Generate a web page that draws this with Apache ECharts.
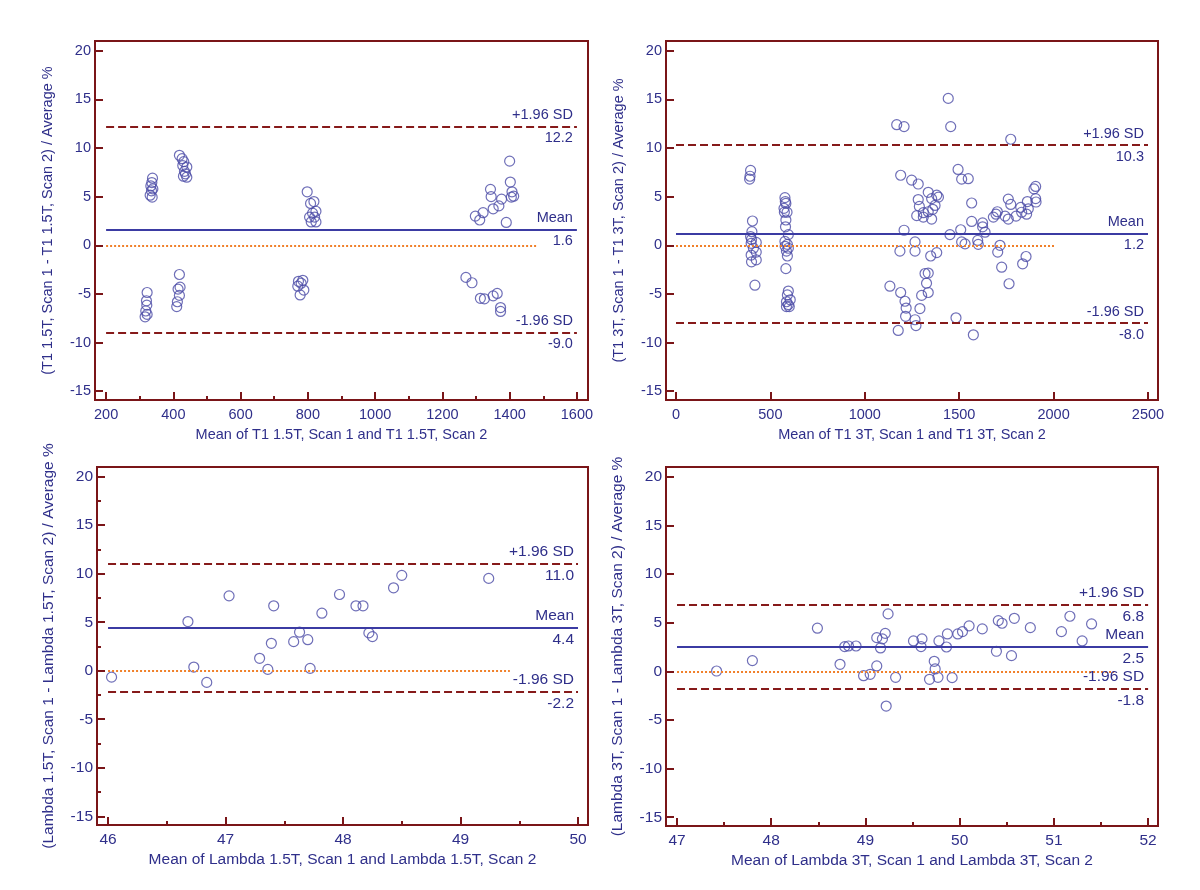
<!DOCTYPE html>
<html>
<head>
<meta charset="utf-8">
<script src="https://cdn.jsdelivr.net/npm/echarts@6/dist/echarts.min.js"></script>
<style>html,body{margin:0;padding:0;background:#fff}#c{width:1200px;height:890px}</style>
</head>
<body>
<div id="c"></div>
<script>
// ---------- DATA ----------
const p1Points = [
  [338,6.9],[336,6.45],[333,6.1],[339,5.8],[335,5.6],[331,5.15],[337,4.95],
  [418,9.25],[426,8.9],[431,8.6],[428,8.2],[440,8.05],[433,7.6],[436,7.35],[430,7.1],[440,7.0],
  [322,-4.85],[320,-5.7],[321,-6.15],[318,-6.75],[322,-7.1],[316,-7.35],
  [418,-3.0],[420,-4.3],[414,-4.5],[418,-5.15],[412,-5.8],[410,-6.3],
  [798,5.5],[808,4.3],[818,4.5],[824,3.5],[814,3.3],[805,2.9],[820,2.9],[810,2.4],[824,2.4],
  [772,-3.7],[785,-3.6],[770,-4.2],[780,-3.9],[788,-4.6],[777,-5.1],
  [1400,8.65],[1343,5.75],[1345,5.0],[1402,6.5],[1407,5.5],[1412,5.05],[1405,4.95],[1376,4.75],
  [1321,3.35],[1298,3.0],[1311,2.6],[1351,3.75],[1368,4.05],[1390,2.35],
  [1270,-3.3],[1288,-3.85],[1313,-5.45],[1325,-5.5],[1351,-5.2],[1363,-4.95],[1373,-6.4],[1373,-6.8]
];
const p2Points = [
  [395,7.7],[392,7.1],[390,6.8],[405,2.5],[402,1.4],[395,0.9],[400,0.6],[425,0.3],[398,0.2],
  [410,-0.3],[425,-0.7],[398,-1.0],[425,-1.5],[400,-1.7],[418,-4.1],
  [577,4.9],[579,4.5],[582,4.3],[572,3.8],[574,3.4],[588,3.4],[582,2.6],[580,1.9],[595,1.1],
  [577,0.4],[590,0.1],[578,-0.1],[595,-0.3],[585,-0.6],[590,-1.1],[582,-2.4],
  [595,-4.7],[590,-5.1],[605,-5.6],[585,-5.8],[595,-6.1],[585,-6.3],[600,-6.3],
  [1442,15.1],[1169,12.4],[1208,12.2],[1455,12.2],[1773,10.9],
  [1190,7.2],[1494,7.8],[1513,6.8],[1548,6.85],[1248,6.7],[1283,6.3],
  [1336,5.45],[1381,5.15],[1390,4.95],[1283,4.7],[1354,4.8],[1289,4.0],[1372,4.1],[1360,3.7],
  [1275,3.05],[1310,3.35],[1310,2.9],[1336,3.45],[1354,2.7],
  [1566,4.35],[1566,2.45],[1208,1.55],[1508,1.6],[1451,1.1],[1624,2.3],[1624,1.9],[1637,1.35],
  [1513,0.35],[1531,0.15],[1598,0.5],[1601,0.1],
  [1681,2.9],[1695,3.2],[1702,3.45],[1743,3.0],[1760,2.7],[1760,4.75],[1773,4.2],[1801,3.0],
  [1826,3.9],[1831,3.4],[1857,3.2],[1861,4.5],[1866,3.75],[1896,5.8],[1905,6.05],[1905,4.8],[1907,4.45],
  [1186,-0.6],[1266,0.35],[1266,-0.6],[1349,-1.1],[1381,-0.75],[1716,0.0],[1704,-0.7],
  [1725,-2.25],[1764,-3.95],[1854,-1.15],[1836,-1.9],
  [1133,-4.2],[1319,-2.9],[1336,-2.85],[1327,-3.9],[1190,-4.85],[1301,-5.15],[1336,-4.85],
  [1213,-5.75],[1219,-6.45],[1292,-6.5],[1216,-7.3],[1266,-7.65],[1271,-8.25],[1177,-8.75],
  [1483,-7.45],[1575,-9.2]
];
const p3Points = [
  [46.03,-0.66],[46.68,5.07],[46.73,0.38],[46.84,-1.2],[47.03,7.72],[47.29,1.28],[47.36,0.14],
  [47.39,2.83],[47.41,6.69],[47.58,3.0],[47.63,3.97],[47.70,3.2],[47.72,0.24],[47.82,5.93],
  [47.97,7.86],[48.11,6.69],[48.17,6.69],[48.22,3.9],[48.25,3.52],[48.43,8.55],[48.50,9.83],[49.24,9.52]
];
const p4Points = [
  [47.42,0.03],[47.80,1.1],[48.49,4.43],[48.73,0.72],[48.78,2.54],[48.82,2.6],[48.90,2.6],
  [48.98,-0.45],[49.05,-0.31],[49.12,0.55],[49.12,3.46],[49.18,3.33],[49.16,2.4],[49.21,3.9],
  [49.24,5.9],[49.22,-3.57],[49.32,-0.62],[49.51,3.12],[49.60,3.33],[49.59,2.54],[49.68,-0.82],
  [49.73,1.03],[49.74,0.24],[49.77,-0.62],[49.78,3.12],[49.86,2.5],[49.87,3.84],[49.92,-0.65],
  [49.98,3.84],[50.03,4.08],[50.10,4.67],[50.24,4.36],[50.39,2.06],[50.41,5.21],[50.45,4.94],
  [50.55,1.61],[50.58,5.45],[50.75,4.49],[51.08,4.08],[51.17,5.66],[51.30,3.12],[51.40,4.87]
];
const meanVals  = [1.6, 1.2, 4.4, 2.5];
const upperVals = [12.2, 10.3, 11.0, 6.8];
const lowerVals = [-9.0, -8.0, -2.2, -1.8];
const zeroEnds  = [1480, 2010, 49.42, 51.64];

const xTicks = [
  [200,400,600,800,1000,1200,1400,1600],
  [0,500,1000,1500,2000,2500],
  [46,47,48,49,50],
  [47,48,49,50,51,52]
];
const xMinorTicks = [
  [300,500,700,900,1100,1300,1500],
  [],
  [46.5,47.5,48.5,49.5],
  [47.5,48.5,49.5,50.5,51.5]
];
const yTicks = [-15,-10,-5,0,5,10,15,20];
const yMinorTicks = [[],[],[-12.5,-7.5,-2.5,2.5,7.5,12.5,17.5],[]];

const xNames = [
  'Mean of T1 1.5T, Scan 1 and T1 1.5T, Scan 2',
  'Mean of T1 3T, Scan 1 and T1 3T, Scan 2',
  'Mean of Lambda 1.5T, Scan 1 and Lambda 1.5T, Scan 2',
  'Mean of Lambda 3T, Scan 1 and Lambda 3T, Scan 2'
];
const yNames = [
  '(T1 1.5T, Scan 1 - T1 1.5T, Scan 2) / Average %',
  '(T1 3T, Scan 1 - T1 3T, Scan 2) / Average %',
  '(Lambda 1.5T, Scan 1 - Lambda 1.5T, Scan 2) / Average %',
  '(Lambda 3T, Scan 1 - Lambda 3T, Scan 2) / Average %'
];

// ---------- LAYOUT / STYLE ----------
const pointsAll = [p1Points, p2Points, p3Points, p4Points];
const xRanges = [[167,1633],[-53,2553],[45.906,50.085],[46.883,52.105]];
const yRange = [-15.9, 21.0];
const grids = [
  {left:95, top:41, width:493, height:359},
  {left:666, top:41, width:492, height:359},
  {left:97, top:467, width:491, height:358},
  {left:666, top:467, width:492, height:359}
];
const fontSizes = [14.5,14.5,15.5,15.5];
const FONT = '"Liberation Sans", Arial, sans-serif';
const NAVY = '#2f2f8a';
const RED = '#7a1518';
const PT = '#4b4ba6';
const plain = v => String(v);

const option = {
  backgroundColor:'#ffffff',
  animation:false,
  grid:[], xAxis:[], yAxis:[], series:[]
};

for (let i=0;i<4;i++){
  const g = grids[i];
  const fs = fontSizes[i];
  option.grid.push({left:g.left, top:g.top, width:g.width, height:g.height,
    show:true, borderColor:RED, borderWidth:2, backgroundColor:'transparent'});
  const xt = xTicks[i];
  const x0 = xt[0], x1 = xt[xt.length-1];
  option.xAxis.push({
    gridIndex:i, type:'value', position:'bottom', min:xRanges[i][0], max:xRanges[i][1],
    axisLine:{show:false, onZero:false}, splitLine:{show:false},
    axisTick:{show:true, inside:true, length:8, customValues:xt, lineStyle:{color:RED,width:2}},
    axisLabel:{customValues:xt, formatter:plain, color:NAVY, fontSize:fs, fontFamily:FONT, margin:7},
    name:xNames[i], nameLocation:'middle', nameGap:27,
    nameTextStyle:{color:NAVY, fontSize:fs, fontFamily:FONT}
  });
  option.xAxis.push({
    gridIndex:i, type:'value', position:'bottom', offset:0, min:xRanges[i][0], max:xRanges[i][1],
    axisLine:{show:false, onZero:false}, splitLine:{show:false},
    axisTick:{show:xMinorTicks[i].length>0, inside:true, length:4, customValues:xMinorTicks[i].length?xMinorTicks[i]:[x0], lineStyle:{color:RED,width:2}},
    axisLabel:{show:false}
  });
  option.yAxis.push({
    gridIndex:i, type:'value', position:'left', min:yRange[0], max:yRange[1],
    axisLine:{show:false, onZero:false}, splitLine:{show:false},
    axisTick:{show:true, inside:true, length:8, customValues:yTicks, lineStyle:{color:RED,width:2}},
    axisLabel:{customValues:yTicks, formatter:plain, color:NAVY, fontSize:fs, fontFamily:FONT, margin:4},
    name:yNames[i], nameLocation:'middle', nameGap:40, nameRotate:90,
    nameTextStyle:{color:NAVY, fontSize:fs, fontFamily:FONT}
  });
  option.yAxis.push({
    gridIndex:i, type:'value', position:'left', offset:0, min:yRange[0], max:yRange[1],
    axisLine:{show:false, onZero:false}, splitLine:{show:false},
    axisTick:{show:yMinorTicks[i].length>0, inside:true, length:4, customValues:yMinorTicks[i].length?yMinorTicks[i]:[0], lineStyle:{color:RED,width:2}},
    axisLabel:{show:false}
  });

  const lblBase = {show:true, color:NAVY, fontSize:fs, fontFamily:FONT, distance:4};
  const seg = (y, xEnd, lineStyle, label) => [
    {coord:[x0,y], lineStyle:lineStyle, label:label},
    {coord:[xEnd,y]}
  ];
  const hidden = {color:'rgba(255,255,255,0)', width:1, type:'solid'};
  const markData = [
    seg(0, zeroEnds[i], {color:'#f0802a', width:2, type:[2,2]}, {show:false}),
    seg(meanVals[i], x1, hidden,
        Object.assign({}, lblBase, {position:'insideEndBottom', formatter:meanVals[i].toFixed(1)})),
    seg(upperVals[i], x1, hidden,
        Object.assign({}, lblBase, {position:'insideEndBottom', formatter:upperVals[i].toFixed(1)})),
    seg(lowerVals[i], x1, hidden,
        Object.assign({}, lblBase, {position:'insideEndBottom', formatter:lowerVals[i].toFixed(1)})),
    seg(meanVals[i], x1, {color:'#3b3ba3', width:2, type:'solid'},
        Object.assign({}, lblBase, {position:'insideEndTop', formatter:'Mean'})),
    seg(upperVals[i], x1, {color:'#861a1a', width:2, type:[8,4]},
        Object.assign({}, lblBase, {position:'insideEndTop', formatter:'+1.96 SD'})),
    seg(lowerVals[i], x1, {color:'#861a1a', width:2, type:[8,4]},
        Object.assign({}, lblBase, {position:'insideEndTop', formatter:'-1.96 SD'}))
  ];

  option.series.push({
    type:'scatter', xAxisIndex:2*i, yAxisIndex:2*i,
    data:pointsAll[i], symbol:'circle', symbolSize:10, silent:true,
    itemStyle:{color:'rgba(255,255,255,0)', borderColor:PT, borderWidth:1.2},
    markLine:{symbol:'none', silent:true, animation:false, data:markData}
  });
}

const chart = echarts.init(document.getElementById('c'), null, {renderer:'canvas'});
chart.setOption(option);
</script>
</body>
</html>
